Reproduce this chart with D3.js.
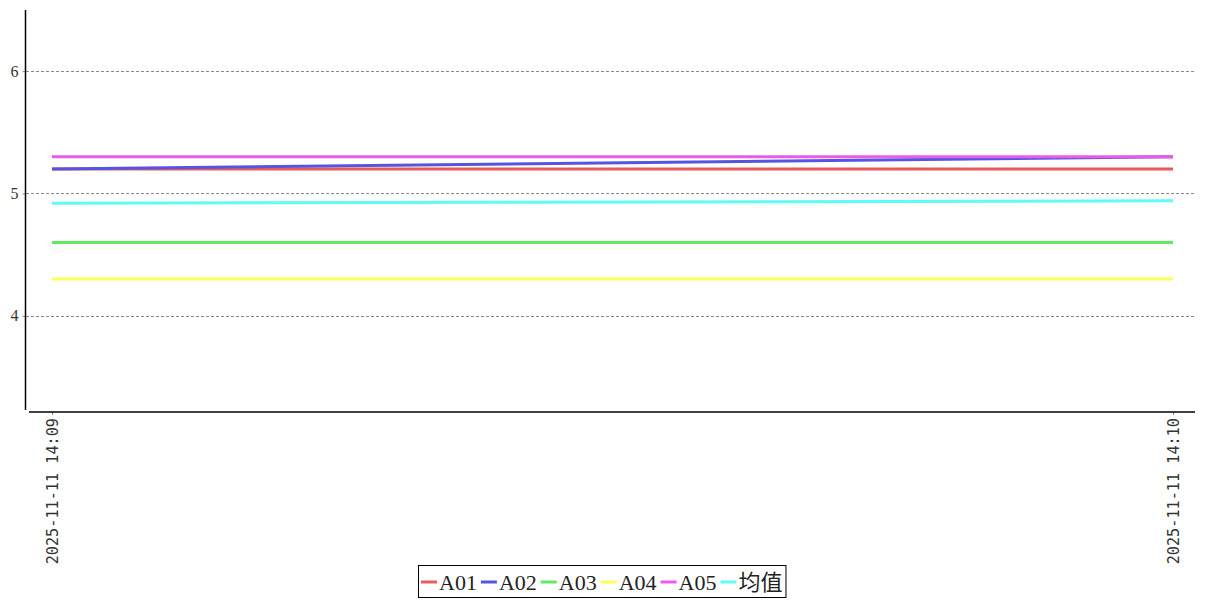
<!DOCTYPE html>
<html><head><meta charset="utf-8">
<script src="https://cdn.jsdelivr.net/npm/d3@7"></script>
<style>body{margin:0;background:#fff;} svg{display:block;}</style>
</head><body>
<svg id="c" width="1207" height="600"></svg>
<script>
const times = ["2025-11-11 14:09", "2025-11-11 14:10"];
const seriesNames = ["A01", "A02", "A03", "A04", "A05", "均值"];
const A01 = [5.2, 5.2];
const A02 = [5.2, 5.3];
const A03 = [4.6, 4.6];
const A04 = [4.3, 4.3];
const A05 = [5.3, 5.3];
const AVG = [4.92, 4.94];
const yTicks = [4, 5, 6];
const colors = ["#eb5a5a", "#5555e1", "#5feb5f", "#ffff5a", "#eb5aeb", "#5ffafa"];

const series = [A01, A02, A03, A04, A05, AVG];
const svg = d3.select("#c");

const x = d3.scalePoint().domain(times).range([52, 1173]);
const y = d3.scaleLinear().domain([3.23, 6.5]).range([410, 10]);

// grid
svg.append("g").selectAll("line").data(yTicks).join("line")
  .attr("x1", 26).attr("x2", 1195)
  .attr("y1", d => Math.round(y(d)) + 0.5).attr("y2", d => Math.round(y(d)) + 0.5)
  .attr("stroke", "#888").attr("stroke-width", 1).attr("stroke-dasharray", "3,2");

// y axis
const ya = svg.append("g").attr("transform", "translate(25.5,0)")
  .call(d3.axisLeft(y).tickValues(yTicks).tickSize(3).tickFormat(d3.format("d")));
ya.select(".domain").remove();
ya.selectAll(".tick line").attr("stroke", "#888");
ya.selectAll(".tick text").attr("font-family", "Liberation Serif").attr("font-size", 16).attr("fill", "#333").attr("x", -7);
svg.append("line").attr("x1", 25.5).attr("x2", 25.5).attr("y1", 10).attr("y2", 410)
  .attr("stroke", "#000").attr("stroke-width", 1.5);

// x axis
const xa = svg.append("g").attr("transform", "translate(0,412)")
  .call(d3.axisBottom(x).tickSize(3));
xa.select(".domain").remove();
xa.selectAll(".tick line").attr("stroke", "#888");
xa.selectAll(".tick text")
  .attr("font-family", "DejaVu Sans Mono").attr("font-size", 15.2).attr("fill", "#333")
  .attr("transform", "rotate(-90)").attr("text-anchor", "end")
  .attr("x", -6).attr("y", 0).attr("dy", "0.35em");
svg.append("line").attr("x1", 29).attr("x2", 1195).attr("y1", 412).attr("y2", 412)
  .attr("stroke", "#000").attr("stroke-width", 1.5);

// lines
const line = d3.line().x((d, i) => x(times[i])).y(d => y(d));
svg.append("g").selectAll("path").data(series).join("path")
  .attr("d", d => line(d)).attr("fill", "none")
  .attr("stroke", (d, i) => colors[i]).attr("stroke-width", 3);

// legend
const lg = svg.append("g");
const box = lg.append("rect").attr("fill", "#fff").attr("stroke", "#000").attr("stroke-width", 1);
let cx = 421;
const ly = 582;
seriesNames.forEach((n, i) => {
  lg.append("line").attr("x1", cx).attr("x2", cx + 16).attr("y1", ly).attr("y2", ly)
    .attr("stroke", colors[i]).attr("stroke-width", 3);
  const t = lg.append("text").attr("x", cx + 18).attr("y", ly).attr("dy", "0.35em")
    .attr("font-family", "Liberation Serif, Noto Sans CJK SC").attr("font-size", 22).attr("fill", "#222").text(n);
  cx += 18 + t.node().getComputedTextLength() + 4;
});
box.attr("x", 418.5).attr("y", 565.5).attr("width", cx - 418 - 1).attr("height", 32);
</script>
</body></html>
